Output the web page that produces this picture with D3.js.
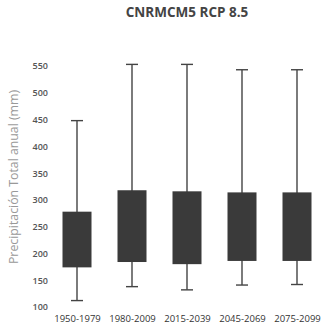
<!DOCTYPE html>
<html>
<head>
<meta charset="utf-8">
<script src="https://cdn.jsdelivr.net/npm/d3@7"></script>
<style>
  body { margin: 0; background: #fff; }
  text { font-family: "Open Sans", sans-serif; }
</style>
</head>
<body>
<svg width="322" height="330"></svg>
<script>
const periods = ["1950-1979", "1980-2009", "2015-2039", "2045-2069", "2075-2099"];
const whiskerLow = [112, 138, 132, 141, 142];
const boxLow = [174, 184, 180, 186, 186];
const boxHigh = [278, 318, 316, 314, 314];
const whiskerHigh = [448, 553, 553, 543, 543];
const yTicks = [100, 150, 200, 250, 300, 350, 400, 450, 500, 550];

const root = d3.select("svg");

const x = d3.scalePoint().domain(periods).range([77, 297]);
const y = d3.scaleLinear().domain([100, 550]).range([307, 66]);

const boxW = 29;
const capW = 12;

// title
root.append("text")
  .attr("x", 187)
  .attr("y", 16.5)
  .attr("text-anchor", "middle")
  .attr("font-size", 13.5)
  .attr("font-weight", "bold")
  .attr("fill", "#444")
  .text("CNRMCM5 RCP 8.5");

// y axis labels, no line
const yAxis = root.append("g")
  .attr("transform", "translate(48,0)")
  .call(d3.axisLeft(y).tickValues(yTicks).tickSize(0).tickPadding(0));
yAxis.select(".domain").remove();
yAxis.selectAll("text")
  .attr("font-family", "Open Sans, sans-serif")
  .attr("font-size", 9)
  .attr("font-weight", 600)
  .attr("fill", "#555");

root.append("text")
  .attr("transform", "translate(18,177) rotate(-90)")
  .attr("text-anchor", "middle")
  .attr("font-size", 12.3)
  .attr("fill", "#999")
  .text("Precipitación Total anual (mm)");

// x axis labels
const xAxis = root.append("g")
  .attr("transform", "translate(0,315)")
  .call(d3.axisBottom(x).tickSize(0).tickPadding(0));
xAxis.select(".domain").remove();
xAxis.selectAll("text")
  .attr("font-family", "Open Sans, sans-serif")
  .attr("font-size", 9.5)
  .attr("fill", "#333");

const rows = periods.map((p, i) => ({
  p, lo: whiskerLow[i], q1: boxLow[i], q3: boxHigh[i], hi: whiskerHigh[i]
}));

const g = root.append("g").selectAll("g").data(rows).join("g");

g.append("line")
  .attr("x1", d => x(d.p)).attr("x2", d => x(d.p))
  .attr("y1", d => y(d.lo)).attr("y2", d => y(d.hi))
  .attr("stroke", "#444").attr("stroke-width", 1.4);

g.append("line")
  .attr("x1", d => x(d.p) - capW / 2).attr("x2", d => x(d.p) + capW / 2)
  .attr("y1", d => y(d.hi)).attr("y2", d => y(d.hi))
  .attr("stroke", "#444").attr("stroke-width", 1.4);

g.append("line")
  .attr("x1", d => x(d.p) - capW / 2).attr("x2", d => x(d.p) + capW / 2)
  .attr("y1", d => y(d.lo)).attr("y2", d => y(d.lo))
  .attr("stroke", "#444").attr("stroke-width", 1.4);

g.append("rect")
  .attr("x", d => x(d.p) - boxW / 2)
  .attr("width", boxW)
  .attr("y", d => y(d.q3))
  .attr("height", d => y(d.q1) - y(d.q3))
  .attr("fill", "#3a3a3a");
</script>
</body>
</html>
